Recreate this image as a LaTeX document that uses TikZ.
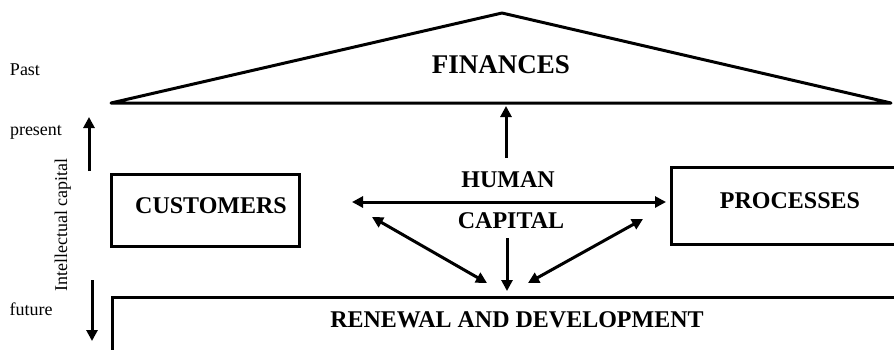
\documentclass[tikz,border=0pt]{standalone}
\usepackage{fontspec}
\setmainfont{Liberation Serif}
\usetikzlibrary{arrows.meta}
\begin{document}
\begin{tikzpicture}[x=1pt,y=-1pt,
  edge/.style={line width=3pt},
  conn/.style={line width=3pt,-{Triangle[width=11pt,length=11pt]}},
  dconn/.style={line width=3pt,{Triangle[width=11pt,length=11pt]}-{Triangle[width=11pt,length=11pt]}},
  big/.style={font=\fontsize{24}{28}\selectfont\bfseries,anchor=base},
  small/.style={font=\fontsize{18}{21}\selectfont,anchor=base}]
\useasboundingbox (0,0) rectangle (894,349);
% roof
\draw[edge,line join=round] (111,103) -- (502,13) -- (891,103) -- cycle;
\node[big,font=\fontsize{27}{32}\selectfont\bfseries] (fin) at (501,73) {FINANCES};
% customers
\draw[edge] (111,174) rectangle (299,246);
\node[big] (cust) at (211,213) {CUSTOMERS};
% processes
\draw[edge] (900,167) -- (671,167) -- (671,244) -- (900,244);
\node[big] (proc) at (790,208) {PROCESSES};
% renewal
\draw[edge] (900,297) -- (112,297) -- (112,360);
\node[big] (ren) at (517,327) {RENEWAL AND DEVELOPMENT};
% human capital
\node[big] (hum) at (508,187) {HUMAN};
\node[big] (cap) at (511,228) {CAPITAL};
% coordinates
\coordinate (upS) at (506,158);
\coordinate (upE) at (506,106);
\coordinate (hL) at (352,202);
\coordinate (hR) at (666,202);
\coordinate (dlA) at (372,217);
\coordinate (dlB) at (487,283);
\coordinate (drA) at (528,283);
\coordinate (drB) at (643,219);
\coordinate (vS) at (507,238);
\coordinate (vE) at (507,291);
\draw[conn] (upS) -- (upE);
\draw[dconn] (hL) -- (hR);
\draw[dconn] (dlA) -- (dlB);
\draw[dconn] (drA) -- (drB);
\draw[conn] (vS) -- (vE);
% left side
\node[small] (past) at (25,75) {Past};
\node[small] (pres) at (36,135) {present};
\node[small] (fut) at (31,315) {future};
\node[small,rotate=90] (ic) at (67,225) {Intellectual capital};
\coordinate (laS) at (89,171);
\coordinate (laE) at (89,117);
\coordinate (lbS) at (92,280);
\coordinate (lbE) at (92,341);
\draw[conn] (laS) -- (laE);
\draw[conn] (lbS) -- (lbE);
\end{tikzpicture}
\end{document}
